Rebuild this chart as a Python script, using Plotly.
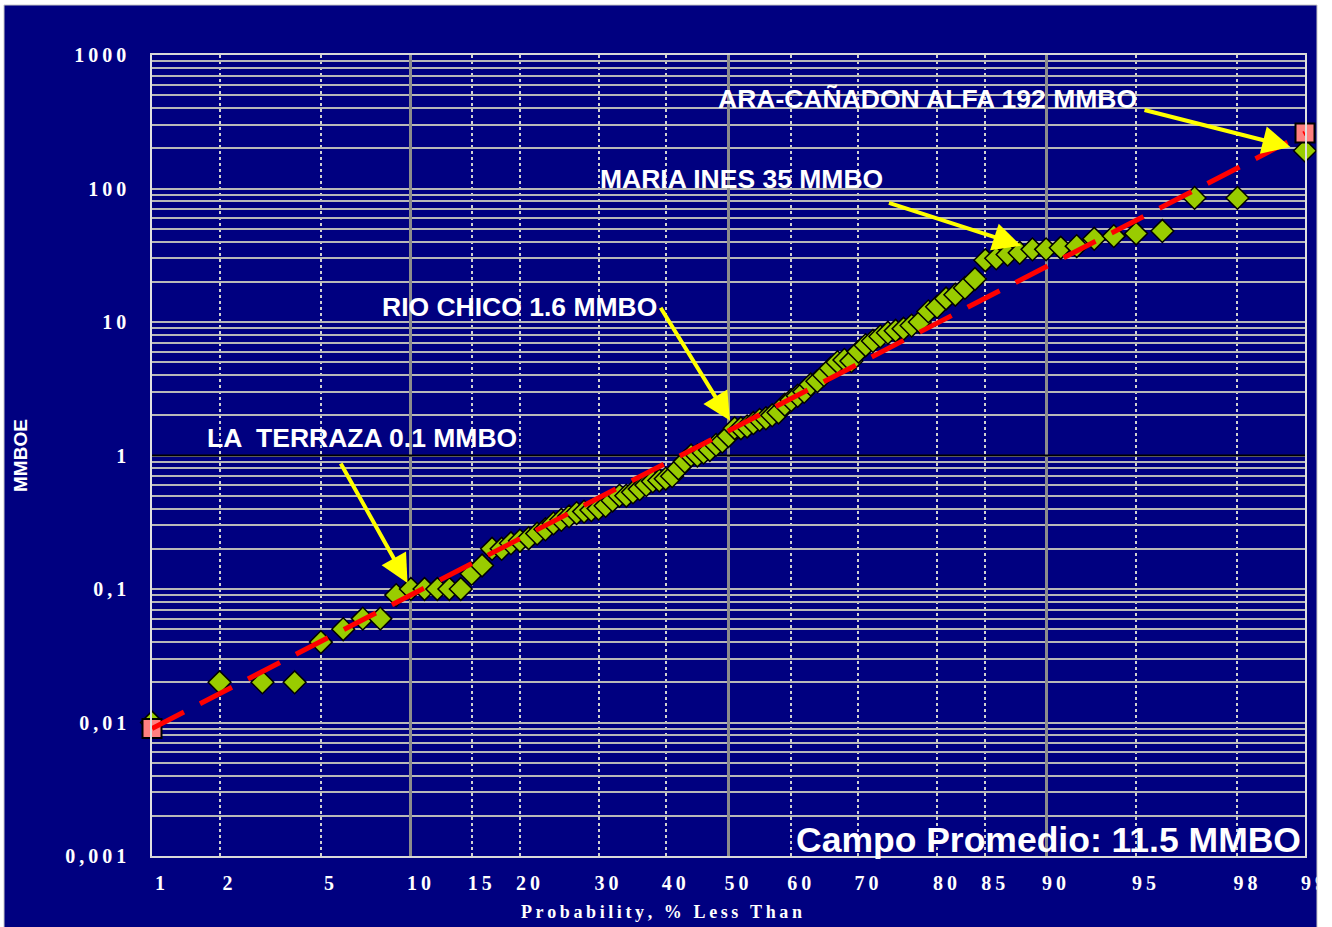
import math
from statistics import NormalDist
import plotly.graph_objects as go

# Cumulative probability (% less than) and field size (MMBOE)
pct = list(range(1, 100))
mmboe = [
    0.01, 0.02, 0.02, 0.02, 0.04, 0.05, 0.06, 0.06, 0.09, 0.10,
    0.10, 0.10, 0.10, 0.10, 0.13, 0.15, 0.20, 0.20, 0.22, 0.23,
    0.24, 0.26, 0.28, 0.31, 0.33, 0.35, 0.37, 0.38, 0.39, 0.40,
    0.42, 0.46, 0.50, 0.50, 0.53, 0.56, 0.60, 0.64, 0.65, 0.67,
    0.70, 0.80, 0.90, 1.00, 1.00, 1.05, 1.10, 1.20, 1.27, 1.40,
    1.60, 1.60, 1.65, 1.75, 1.85, 1.90, 2.00, 2.10, 2.40, 2.60,
    2.80, 3.00, 3.40, 3.60, 4.00, 4.50, 5.00, 5.20, 5.10, 6.00,
    6.70, 7.20, 7.80, 8.30, 8.60, 8.90, 9.40, 10.0, 12.0, 13.0,
    15.0, 16.0, 18.0, 21.0, 29.0, 30.0, 32.0, 33.0, 35.0, 35.0,
    36.0, 37.0, 42.0, 44.0, 46.0, 48.0, 85.0, 85.0, 192.0,
]

# Lognormal fit end points
trend_pct = [1, 99]
trend_mmboe = [0.009, 260]

# Named fields: (label, percentile of the field)
callouts = [
    ("LA  TERRAZA 0.1 MMBO", 10),
    ("RIO CHICO 1.6 MMBO", 51),
    ("MARIA INES 35 MMBO", 89),
    ("ARA-CAÑADON ALFA 192 MMBO", 99),
]
summary_text = "Campo Promedio: 11.5 MMBO"

x_ticks = [1, 2, 5, 10, 15, 20, 30, 40, 50, 60, 70, 80, 85, 90, 95, 98, 99]
x_solid = [10, 50, 90]
x_dotted = [2, 5, 15, 20, 30, 40, 60, 70, 80, 85, 95, 98]
y_ticks = [0.001, 0.01, 0.1, 1, 10, 100, 1000]
y_tick_labels = ["0,001", "0,01", "0,1", "1", "10", "100", "1000"]
y_dark_line = 1

NAVY = "#000080"
nd = NormalDist()


def zq(p):
    """Probability (%) -> standard normal quantile (probability paper)."""
    return nd.inv_cdf(p / 100.0)


def spaced(s):
    return "\u2009".join(s)


px0, px1 = 152, 1305
py0, py1 = 55, 856
W, H = 1332, 927


def xp(px):
    return (px - px0) / (px1 - px0)


def yp(py):
    return (py1 - py) / (py1 - py0)


x_range = [zq(x_ticks[0]), zq(x_ticks[-1])]

fig = go.Figure()

fig.add_trace(go.Scatter(
    x=[zq(p) for p in trend_pct], y=trend_mmboe, mode="lines",
    line=dict(color="#ff0000", width=5, dash="36px,18px"),
    xaxis="x2", hoverinfo="skip", showlegend=False,
))

fig.add_trace(go.Scatter(
    x=[zq(p) for p in pct], y=mmboe, mode="markers",
    marker=dict(symbol="diamond", size=17.5, color="#99cc00",
                line=dict(color="#000000", width=1.5)),
    cliponaxis=False, showlegend=False,
))

fig.add_trace(go.Scatter(
    x=[zq(p) for p in trend_pct], y=trend_mmboe, mode="markers",
    marker=dict(symbol="square", size=19, color="#ff8080",
                line=dict(color="#000000", width=2)),
    cliponaxis=False, showlegend=False,
))

minor_y = [m * 10 ** k for k in range(-3, 3) for m in range(2, 10)]
tick_font = dict(family="Liberation Serif", size=20, color="white", weight="bold")

fig.update_layout(
    width=W, height=H,
    margin=dict(l=px0, r=W - px1, t=py0, b=H - py1, autoexpand=False),
    paper_bgcolor=NAVY, plot_bgcolor=NAVY,
    xaxis=dict(
        range=x_range, tickvals=[zq(v) for v in x_ticks],
        ticktext=[spaced(str(v)) for v in x_ticks],
        showgrid=False, zeroline=False, ticks="", automargin=False,
        tickfont=tick_font, ticklabelstandoff=8, ticklabelshift=8,
        showline=True, mirror=True, linecolor="#d8d8d8", linewidth=1.5,
        minor=dict(tickvals=[zq(v) for v in x_dotted], showgrid=True,
                   gridcolor="#d0d0d0", griddash="dot", gridwidth=1.5, ticks=""),
    ),
    xaxis2=dict(
        overlaying="x", matches="x", side="bottom", automargin=False,
        tickvals=[zq(v) for v in x_solid], showticklabels=False, ticks="",
        showgrid=True, gridcolor="#8c8c8c", gridwidth=3, zeroline=False,
    ),
    yaxis=dict(
        type="log", range=[-3, 3], tickvals=y_ticks,
        ticktext=[spaced(t) for t in y_tick_labels], automargin=False,
        showgrid=True, gridcolor="#b8b8b8", gridwidth=1.5, zeroline=False,
        ticks="", tickfont=tick_font, ticklabelstandoff=20,
        showline=True, mirror=True, linecolor="#e0e0e0", linewidth=1.5,
        minor=dict(tickvals=minor_y, showgrid=True, gridcolor="#b8b8b8",
                   gridwidth=1.5, ticks=""),
    ),
)

shapes = [
    # dark reference line at 1 MMBOE, between the grid and the markers
    dict(type="line", xref="x", yref="y", x0=x_range[0], x1=x_range[1],
         y0=y_dark_line, y1=y_dark_line, layer="between",
         line=dict(color="#000000", width=2)),
    # page frame around the navy panel
    dict(type="rect", xref="paper", yref="paper", layer="above",
         x0=xp(1317), x1=xp(W + 5), y0=yp(H + 5), y1=yp(-5),
         fillcolor="white", line=dict(width=0)),
    dict(type="rect", xref="paper", yref="paper", layer="above",
         x0=xp(-5), x1=xp(4), y0=yp(H + 5), y1=yp(-5),
         fillcolor="white", line=dict(width=0)),
    dict(type="rect", xref="paper", yref="paper", layer="above",
         x0=xp(-5), x1=xp(W + 5), y0=yp(5), y1=yp(-5),
         fillcolor="white", line=dict(width=0)),
    dict(type="rect", xref="paper", yref="paper", layer="above",
         x0=xp(4), x1=xp(1317), y0=yp(H + 5), y1=yp(5),
         fillcolor="rgba(0,0,0,0)", line=dict(color="#c8c8c8", width=1)),
]
fig.update_layout(shapes=shapes)

label_pos = {  # left edge, vertical centre, arrow tail offset, standoff (px)
    "LA  TERRAZA 0.1 MMBO": (205, 438, -71, -127, 7),
    "RIO CHICO 1.6 MMBO": (380, 307, -75, -122, 9),
    "MARIA INES 35 MMBO": (598, 179, -145, -47, 12),
    "ARA-CAÑADON ALFA 192 MMBO": (716, 99, -162, -41, 15),
}

annotations = []
for label, p in callouts:
    lx, ly, ax, ay, so = label_pos[label]
    annotations.append(dict(
        x=xp(lx), y=yp(ly), xref="paper", yref="paper",
        xanchor="left", yanchor="middle", showarrow=False, text=label,
        font=dict(family="Liberation Sans", size=26.5, color="white", weight="bold"),
    ))
    annotations.append(dict(
        x=zq(p), y=math.log10(mmboe[pct.index(p)]), xref="x", yref="y",
        ax=ax, ay=ay, text="", showarrow=True, arrowhead=2,
        arrowsize=1.4, arrowwidth=4, arrowcolor="#ffff00", standoff=so,
    ))

annotations.append(dict(
    x=xp(1303), y=yp(840), xref="paper", yref="paper",
    xanchor="right", yanchor="middle", showarrow=False, text=summary_text,
    font=dict(family="Liberation Sans", size=35.5, color="white", weight="bold"),
))
annotations.append(dict(
    x=xp(661), y=yp(912), xref="paper", yref="paper",
    xanchor="center", yanchor="middle", showarrow=False,
    text=spaced("Probability, % Less Than"),
    font=dict(family="Liberation Serif", size=18, color="white", weight="bold"),
))
annotations.append(dict(
    x=xp(20), y=yp(456), xref="paper", yref="paper", textangle=-90,
    xanchor="center", yanchor="middle", showarrow=False, text="MMBOE",
    font=dict(family="Liberation Sans", size=19, color="white", weight="bold"),
))
fig.update_layout(annotations=annotations)

fig.write_html("out.html")
